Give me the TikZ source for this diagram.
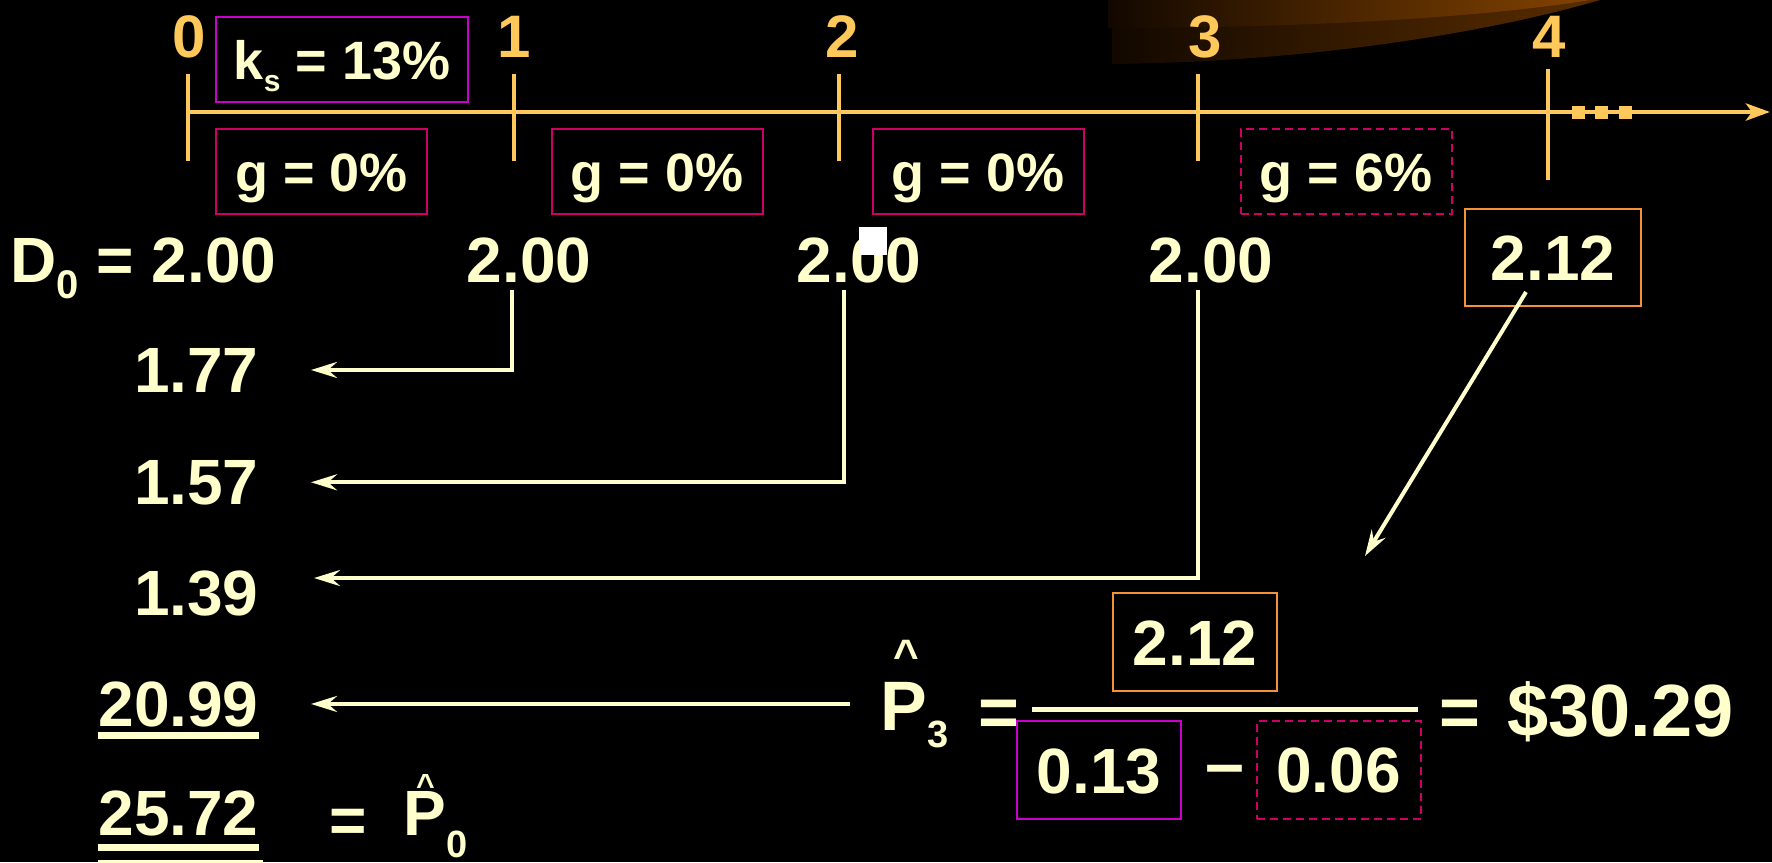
\documentclass[tikz,border=0pt]{standalone}
\usepackage{fontspec}
\setmainfont{Liberation Sans}
\usetikzlibrary{arrows.meta}
\definecolor{cream}{HTML}{FFFFCC}
\definecolor{tline}{HTML}{FFC85A}
\definecolor{kbox}{HTML}{CC00CC}
\definecolor{gbox}{HTML}{CC0066}
\definecolor{obox}{HTML}{F39237}
\definecolor{swdark}{HTML}{120800}
\definecolor{swlow}{HTML}{5A2D00}
\definecolor{swhigh}{HTML}{844300}
\newcommand{\lowsub}[3]{\raisebox{#1}{\fontsize{#2}{#2}\selectfont #3}}
\newcommand{\hatover}[3]{\rlap{\hspace{#1}\raisebox{#2}{\fontsize{#3}{#3}\selectfont\textasciicircum}}}

\begin{document}
\begin{tikzpicture}[x=0.5pt, y=-0.5pt,
    val/.style = {text=cream, inner sep=0, font=\bfseries\fontsize{32}{38}\selectfont},
    big/.style = {val, font=\bfseries\fontsize{35}{42}\selectfont},
    lbl/.style = {text=tline, inner sep=0, font=\bfseries\fontsize{30}{36}\selectfont},
    ratebox/.style = {draw=gbox, line width=1pt, text=cream, inner sep=0, minimum width=105.5pt, minimum height=42.5pt, text height=19.5pt, text depth=0pt, font=\bfseries\fontsize{27}{32}\selectfont},
    numbox/.style = {draw=obox, line width=1pt, text=cream, inner sep=0, minimum width=82pt, minimum height=49pt, text height=23pt, text depth=0pt, font=\bfseries\fontsize{32}{38}\selectfont},
    conn/.style = {draw=cream, line width=2pt, -{Stealth[length=13pt, width=8pt, inset=4.5pt]}},
    uline/.style = {draw=cream, line width=3.5pt},
    tick/.style = {draw=tline, line width=2pt}]
    \useasboundingbox (0,0) rectangle (1772,862);
    \fill[black] (0,0) rectangle (1772,862);

    \shade[left color=swdark, right color=swlow] (1112,0) -- (1112,64) .. controls (1300,62) and (1480,35) .. (1600,0) -- cycle;
    \shade[left color=swdark, right color=swhigh] (1108,0) -- (1108,28) .. controls (1300,28) and (1480,18) .. (1590,0) -- cycle;

    \draw[tline, line width=2.35pt, -{Stealth[length=12pt, width=8.5pt, inset=3pt]}] (188,112) -- (1770,112);
    \foreach \n/\x/\lx/\a/\b in {0/188/189/74/161, 1/514/514/74/161, 2/839/842/74/161, 3/1198/1205/74/161, 4/1548/1549/69/180} {
        \draw[tick] (\x,\a) -- (\x,\b);
        \node[lbl, anchor=base] (l\n) at (\lx,57) {\n};
    }
    \foreach \x in {1572,1595,1619}
        \fill[tline] (\x,106) rectangle ++(13,13);

    \node[ratebox, draw=kbox, minimum width=126pt] (ks) at (342,59.5) {k\lowsub{-6pt}{15}{s} = 13\%};
    \node[ratebox] (g1) at (321.5,171.5) {g = 0\%};
    \node[ratebox] (g2) at (657,171.5) {g = 0\%};
    \node[ratebox] (g3) at (978,171.5) {g = 0\%};
    \node[ratebox, dashed, dash pattern=on 4pt off 2.5pt] (g4) at (1346,171.5) {g = 6\%};

    \node[val, anchor=base west] (d0) at (10,282) {D\lowsub{-8pt}{20}{0} = 2.00};
    \node[val, anchor=base] (d1) at (529,282) {2.00};
    \node[val, anchor=base] (d2) at (859,282) {2.00};
    \node[val, anchor=base] (d3) at (1211,282) {2.00};
    \node[numbox, minimum width=88pt, minimum height=48.5pt] (d4) at (1553,257.5) {2.12};
    \fill[white] (859,227) rectangle (887,255);

    \node[val, anchor=base east] (v177) at (259,392) {1.77};
    \node[val, anchor=base east] (v157) at (259,504) {1.57};
    \node[val, anchor=base east] (v139) at (259,615) {1.39};
    \node[val, anchor=base east] (v2099) at (259,726) {20.99};
    \node[val, anchor=base east] (v2572) at (259,835) {25.72};
    \draw[uline] ([yshift=-4.75pt]v2099.base west) -- ([yshift=-4.75pt]v2099.base east);
    \draw[uline] ([yshift=-6.25pt]v2572.base west) -- ([yshift=-6.25pt]v2572.base east);
    \draw[uline] ([yshift=-14pt]v2572.base west) -- ([xshift=2pt,yshift=-14pt]v2572.base east);
    \node[val, anchor=base] (eq0) at (348,842) {=};
    \node[val, anchor=base west] (p0) at (403,835) {\hatover{6.3pt}{19.5pt}{16}P\lowsub{-11pt}{19}{0}};

    \node[big, anchor=base west] (p3) at (880,730) {\hatover{6.5pt}{30pt}{22}P\lowsub{-8.5pt}{19}{3}};
    \node[big, anchor=base] (eq1) at (999,736) {=};
    \draw[cream, line width=2.5pt] (1032,709) -- (1418,709);
    \node[numbox] (num) at (1195,642) {2.12};
    \node[numbox, draw=kbox] (ks3) at (1099,770) {0.13};
    \node[big, anchor=base] (minus) at (1225,787) {–};
    \node[numbox, draw=gbox, dashed, dash pattern=on 4pt off 2.5pt] (g5) at (1338.5,769.5) {0.06};
    \node[big, anchor=base] (eq2) at (1460,736) {=};
    \node[val, font=\bfseries\fontsize{37}{44}\selectfont, anchor=base west] (res) at (1507,736) {\$30.29};

    \coordinate (p3top) at (1365,556);
    \draw[conn] ([xshift=-8.5pt,yshift=-4pt]d1.base) |- ([xshift=26pt]v177.east);
    \draw[conn] ([xshift=-7.5pt,yshift=-4pt]d2.base) |- ([xshift=26pt]v157.east);
    \draw[conn] ([xshift=-6.5pt,yshift=-4pt]d3.base) |- ([xshift=27.5pt,yshift=7.5pt]v139.east);
    \draw[conn] ([xshift=-15pt]v2099.east -| p3.west) -- ([xshift=26pt]v2099.east);
    \draw[conn] ([xshift=-13.5pt,yshift=-17.25pt]d4.center) -- (p3top);
\end{tikzpicture}
\end{document}
